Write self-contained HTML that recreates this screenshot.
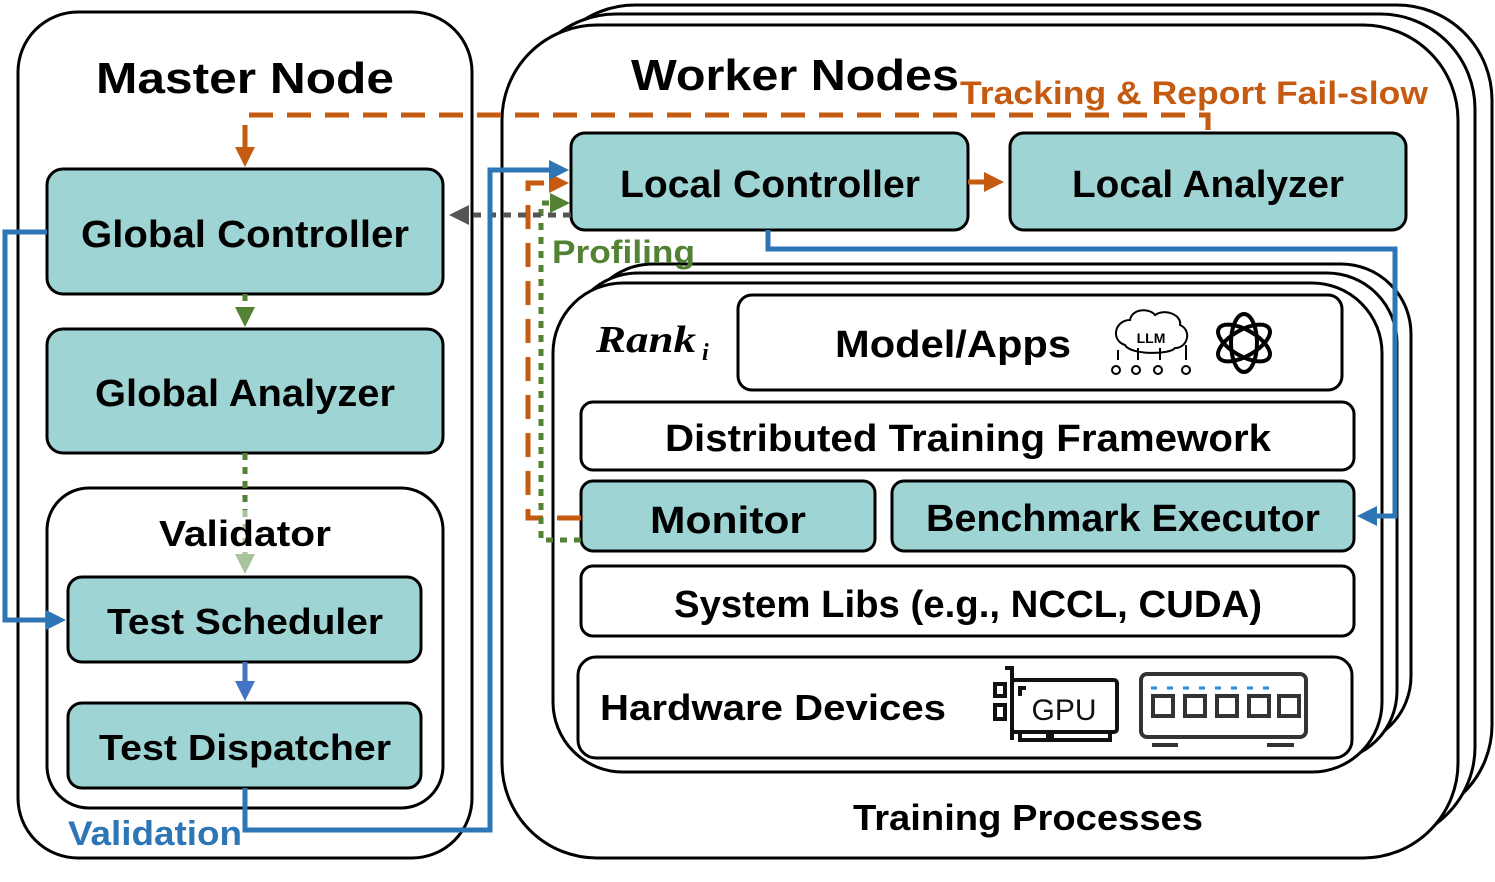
<!DOCTYPE html>
<html><head><meta charset="utf-8"><style>
html,body{margin:0;padding:0;background:#fff;}
svg{display:block;font-family:"Liberation Sans",sans-serif;font-weight:bold;}
</style></head><body>
<svg width="1495" height="882" viewBox="0 0 1495 882" xmlns="http://www.w3.org/2000/svg">
<defs>
<marker id="ab" markerWidth="4" markerHeight="4" refX="2.2" refY="2" orient="auto" markerUnits="strokeWidth"><path d="M0,0 L4,2 L0,4 z" fill="#2e75b6"/></marker>
<marker id="ab2" markerWidth="4" markerHeight="4" refX="2.2" refY="2" orient="auto" markerUnits="strokeWidth"><path d="M0,0 L4,2 L0,4 z" fill="#4472c4"/></marker>
<marker id="ao" markerWidth="4" markerHeight="4" refX="2.2" refY="2" orient="auto" markerUnits="strokeWidth"><path d="M0,0 L4,2 L0,4 z" fill="#c55a11"/></marker>
<marker id="ag" markerWidth="4" markerHeight="4" refX="2.2" refY="2" orient="auto" markerUnits="strokeWidth"><path d="M0,0 L4,2 L0,4 z" fill="#548235"/></marker>
<marker id="agl" markerWidth="4" markerHeight="4" refX="2.2" refY="2" orient="auto" markerUnits="strokeWidth"><path d="M0,0 L4,2 L0,4 z" fill="#a9c49a"/></marker>
<marker id="ak" markerWidth="4" markerHeight="4" refX="2.2" refY="2" orient="auto" markerUnits="strokeWidth"><path d="M0,0 L4,2 L0,4 z" fill="#555"/></marker>
</defs>
<g fill="#fff" stroke="#000" stroke-width="3">
<rect x="18" y="12" width="454" height="846" rx="60"/>
<rect x="540" y="5" width="952" height="815" rx="95"/>
<rect x="521" y="14" width="954" height="828" rx="95"/>
<rect x="502" y="25" width="956" height="833" rx="95"/>
<rect x="583" y="264" width="828" height="482" rx="70"/>
<rect x="568" y="273" width="829" height="488" rx="70"/>
<rect x="553" y="283" width="829" height="489" rx="70"/>
<rect x="47" y="488" width="396" height="320" rx="42"/>
</g>
<g fill="#9fd4d4" stroke="#000" stroke-width="3">
<rect x="47" y="169" width="396" height="125" rx="16"/>
<rect x="47" y="329" width="396" height="124" rx="16"/>
<rect x="68" y="577" width="353" height="85" rx="14"/>
<rect x="68" y="703" width="353" height="85" rx="14"/>
<rect x="571" y="133" width="397" height="97" rx="14"/>
<rect x="1010" y="133" width="396" height="97" rx="14"/>
<rect x="581" y="481" width="294" height="70" rx="12"/>
<rect x="892" y="481" width="462" height="70" rx="12"/>
</g>
<g fill="#fff" stroke="#000" stroke-width="3">
<rect x="738" y="295" width="604" height="95" rx="14"/>
<rect x="581" y="402" width="773" height="68" rx="12"/>
<rect x="581" y="566" width="773" height="70" rx="12"/>
<rect x="578" y="657" width="774" height="101" rx="18"/>
</g>

<g fill="none" stroke-width="5">
<path d="M1208,130 V115 H245 V158" stroke="#c55a11" stroke-dasharray="24,14" marker-end="url(#ao)"/>
<path d="M581,518 H528 V183 H560" stroke="#c55a11" stroke-dasharray="24,14" marker-end="url(#ao)"/>
<path d="M968,182 H995" stroke="#c55a11" marker-end="url(#ao)"/>
<path d="M581,540 H541 V203 H561" stroke="#548235" stroke-dasharray="7,7" marker-end="url(#ag)"/>
<path d="M571,215 H458" stroke="#555" stroke-dasharray="8,7" marker-end="url(#ak)"/>
<path d="M245,294 V318" stroke="#548235" stroke-dasharray="7,7" marker-end="url(#ag)"/>
<path d="M245,453 V510" stroke="#548235" stroke-dasharray="7,7"/>
<path d="M245,510 V565" stroke="#a9c49a" stroke-dasharray="7,7" marker-end="url(#agl)"/>
<path d="M245,662 V692" stroke="#4472c4" marker-end="url(#ab2)"/>
<path d="M245,788 V830 H490 V170 H560" stroke="#2e75b6" marker-end="url(#ab)"/>
<path d="M47,232 H5 V620 H57" stroke="#2e75b6" marker-end="url(#ab)"/>
<path d="M768,230 V249 H1395 V516 H1366" stroke="#2e75b6" marker-end="url(#ab)"/>
</g>

<g text-anchor="middle" fill="#000">
<text x="245" y="93" font-size="44" textLength="298" lengthAdjust="spacingAndGlyphs">Master Node</text>
<text x="795" y="90" font-size="44" textLength="328" lengthAdjust="spacingAndGlyphs">Worker Nodes</text>
<text x="245" y="247" font-size="38" textLength="328" lengthAdjust="spacingAndGlyphs">Global Controller</text>
<text x="245" y="406" font-size="38" textLength="300" lengthAdjust="spacingAndGlyphs">Global Analyzer</text>
<text x="245" y="546" font-size="36" textLength="172" lengthAdjust="spacingAndGlyphs">Validator</text>
<text x="245" y="634" font-size="36" textLength="276" lengthAdjust="spacingAndGlyphs">Test Scheduler</text>
<text x="245" y="760" font-size="36" textLength="292" lengthAdjust="spacingAndGlyphs">Test Dispatcher</text>
<text x="770" y="197" font-size="38" textLength="300" lengthAdjust="spacingAndGlyphs">Local Controller</text>
<text x="1208" y="197" font-size="38" textLength="272" lengthAdjust="spacingAndGlyphs">Local Analyzer</text>
<text x="953" y="357" font-size="38" textLength="236" lengthAdjust="spacingAndGlyphs">Model/Apps</text>
<text x="968" y="451" font-size="38" textLength="606" lengthAdjust="spacingAndGlyphs">Distributed Training Framework</text>
<text x="728" y="533" font-size="38" textLength="156" lengthAdjust="spacingAndGlyphs">Monitor</text>
<text x="1123" y="531" font-size="38" textLength="394" lengthAdjust="spacingAndGlyphs">Benchmark Executor</text>
<text x="968" y="617" font-size="38" textLength="588" lengthAdjust="spacingAndGlyphs">System Libs (e.g., NCCL, CUDA)</text>
<text x="1028" y="830" font-size="36" textLength="350" lengthAdjust="spacingAndGlyphs">Training Processes</text>
</g>
<text x="600" y="720" font-size="36" textLength="346" lengthAdjust="spacingAndGlyphs">Hardware Devices</text>
<text x="960" y="104" font-size="32" fill="#c55a11" textLength="468" lengthAdjust="spacingAndGlyphs">Tracking &amp; Report Fail-slow</text>
<text x="552" y="263" font-size="32" fill="#548235" textLength="143" lengthAdjust="spacingAndGlyphs">Profiling</text>
<text x="68" y="845" font-size="34" fill="#2e75b6" textLength="174" lengthAdjust="spacingAndGlyphs">Validation</text>
<text x="596" y="352" font-size="38" font-family="Liberation Serif,serif" font-style="italic" textLength="100" lengthAdjust="spacingAndGlyphs">Rank</text>
<text x="702" y="360" font-size="24" font-family="Liberation Serif,serif" font-style="italic">i</text>

<g fill="none" stroke="#000" stroke-width="2">
<path d="M1125,345 C1110,340 1115,320 1130,320 C1132,308 1150,308 1155,315 C1165,308 1182,315 1180,325 C1192,330 1188,348 1175,348 C1170,355 1130,355 1125,345 z"/>
<path d="M1118,360 V350 M1138,360 V348 M1160,360 V348 M1186,360 V345"/>
<circle cx="1116" cy="370" r="4"/><circle cx="1136" cy="370" r="4"/><circle cx="1158" cy="370" r="4"/><circle cx="1186" cy="370" r="4"/>
</g>
<text x="1151" y="343" font-size="14" text-anchor="middle">LLM</text>
<g fill="none" stroke="#000" stroke-width="4">
<ellipse cx="1244" cy="343" rx="13" ry="29"/>
<ellipse cx="1244" cy="343" rx="13" ry="29" transform="rotate(60 1244 343)"/>
<ellipse cx="1244" cy="343" rx="13" ry="29" transform="rotate(-60 1244 343)"/>
</g>
<g fill="none" stroke="#111" stroke-width="4">
<path d="M1005,668 H1012 V740"/>
<rect x="995" y="684" width="10" height="12"/><rect x="995" y="705" width="10" height="14"/>
<rect x="1012" y="680" width="105" height="52" rx="3"/>
<path d="M1020,732 V740 H1048 V732 M1052,732 V740 H1110 V732"/>
<path d="M1020,696 V688 H1026"/>
</g>
<text x="1064" y="720" font-size="30" font-weight="normal" text-anchor="middle" fill="#111">GPU</text>
<g fill="none" stroke="#333" stroke-width="4">
<rect x="1141" y="674" width="165" height="63" rx="6"/>
<rect x="1153" y="696" width="20" height="20"/><rect x="1185" y="696" width="20" height="20"/><rect x="1217" y="696" width="20" height="20"/><rect x="1249" y="696" width="20" height="20"/><rect x="1279" y="696" width="20" height="20"/>
<path d="M1152,745 H1178 M1267,745 H1294"/>
</g>
<path d="M1151,688 H1272" stroke="#2e8fd6" stroke-width="3" stroke-dasharray="6,10"/>
</svg>
</body></html>
